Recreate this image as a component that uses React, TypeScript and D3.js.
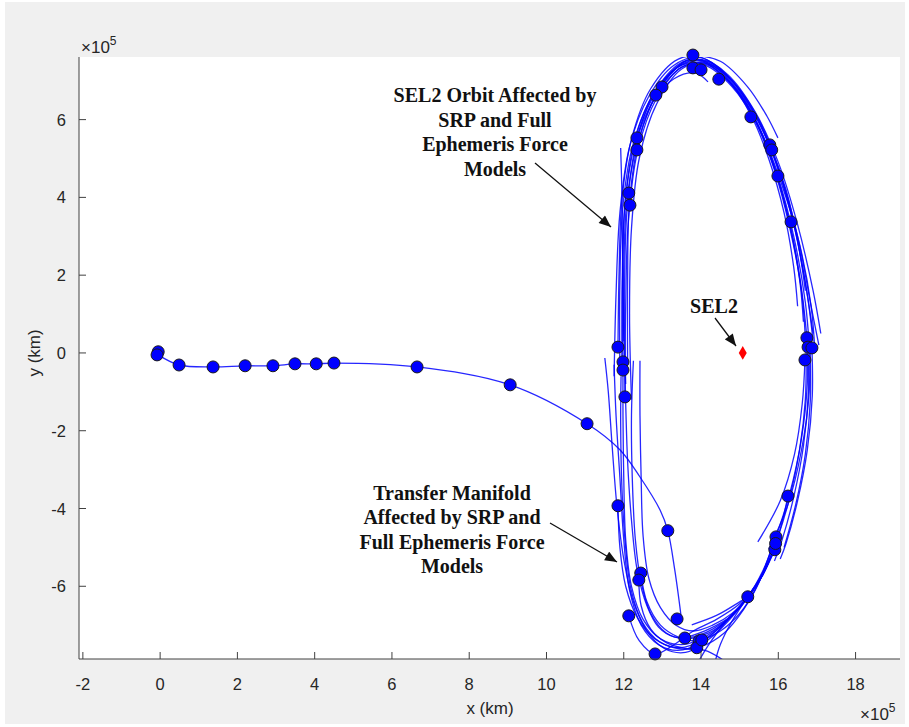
import React, { useEffect } from "react";
import * as d3 from "d3";

type P = [number, number];

// values in units of 1e5 km
const xTicks = [-2, 0, 2, 4, 6, 8, 10, 12, 14, 16, 18];
const yTicks = [-6, -4, -2, 0, 2, 4, 6];

const transferPath: P[] = [
  [-0.05, -0.05], [0.49, -0.31], [1.37, -0.36], [2.2, -0.33], [2.92, -0.33], [3.49, -0.28],
  [4.04, -0.28], [4.5, -0.26], [6.65, -0.36], [9.06, -0.82], [11.05, -1.82], [11.9, -2.49],
  [12.42, -3.19], [12.94, -4.04], [13.14, -4.57], [13.32, -5.58], [13.48, -6.74],
];

const transferMarkers: P[] = [
  [-0.05, 0.03], [-0.08, -0.05], [0.49, -0.31], [1.37, -0.36], [2.2, -0.33], [2.92, -0.33],
  [3.49, -0.28], [4.04, -0.28], [4.5, -0.26], [6.65, -0.36], [9.06, -0.82], [11.05, -1.82],
  [13.14, -4.57], [13.38, -6.84],
];

// arcs climbing the left side, over the top, down to the right
const upperArcs: P[][] = [
  [[11.95, -0.1], [11.97, 2.0], [12.05, 4.0], [12.35, 5.6], [12.9, 6.8], [13.6, 7.5], [14.2, 7.45], [14.9, 6.8], [15.5, 5.8], [16.0, 4.5], [16.4, 3.0], [16.7, 1.3], [16.8, 0.2]],
  [[12.0, 0.3], [12.0, 2.2], [12.1, 4.1], [12.45, 5.7], [13.0, 6.9], [13.7, 7.55], [14.3, 7.4], [15.0, 6.7], [15.6, 5.6], [16.1, 4.3], [16.55, 2.8], [16.85, 1.2], [16.95, 0.0]],
  [[11.9, -0.5], [11.9, 1.8], [11.98, 3.8], [12.25, 5.4], [12.8, 6.7], [13.5, 7.4], [14.1, 7.4], [14.8, 6.85], [15.4, 5.95], [15.9, 4.7], [16.3, 3.2], [16.6, 1.6], [16.7, 0.4]],
  [[12.05, -0.8], [12.02, 1.5], [12.08, 3.6], [12.3, 5.3], [12.75, 6.6], [13.4, 7.35], [14.0, 7.5], [14.7, 7.0], [15.35, 6.1], [15.85, 4.9], [16.25, 3.5], [16.55, 1.9], [16.65, 0.8]],
  [[11.85, 0.1], [11.88, 2.1], [11.95, 3.9], [12.2, 5.5], [12.7, 6.8], [13.4, 7.55], [14.0, 7.6], [14.75, 7.05], [15.45, 6.0], [16.05, 4.6], [16.5, 3.0], [16.85, 1.2], [17.05, 0.2]],
  [[12.1, -0.3], [12.1, 1.9], [12.15, 3.9], [12.4, 5.5], [12.9, 6.75], [13.55, 7.45], [14.15, 7.5], [14.85, 6.95], [15.5, 5.95], [16.0, 4.7], [16.4, 3.3], [16.7, 1.8], [16.9, 0.5]],
  [[11.75, -0.6], [11.8, 1.5], [11.9, 3.6], [12.15, 5.3], [12.65, 6.6], [13.3, 7.4], [13.95, 7.6], [14.7, 7.15], [15.4, 6.2], [16.0, 4.9], [16.5, 3.3], [16.9, 1.6], [17.1, 0.5]],
  [[12.2, -1.2], [12.15, 1.0], [12.2, 3.2], [12.4, 5.0], [12.85, 6.4], [13.5, 7.3], [14.1, 7.45], [14.75, 6.95], [15.3, 6.1], [15.75, 5.0], [16.15, 3.6], [16.4, 2.2], [16.5, 1.2]],
  [[11.98, -0.23], [11.96, 1.7], [12.02, 3.7], [12.28, 5.45], [12.82, 6.75], [13.55, 7.5], [14.2, 7.5], [14.9, 6.9], [15.55, 5.9], [16.05, 4.6], [16.45, 3.1], [16.75, 1.5], [16.9, 0.3]],
  [[12.03, -1.13], [12.05, 1.2], [12.12, 3.4], [12.36, 5.2], [12.85, 6.55], [13.5, 7.35], [14.12, 7.42], [14.8, 6.9], [15.45, 5.9], [15.95, 4.6], [16.35, 3.1], [16.62, 1.5], [16.74, 0.39]],
];

const topArcs: P[][] = [
  [[12.34, 5.53], [12.75, 6.45], [13.3, 7.05], [13.85, 7.2], [14.18, 6.97]],
  [[12.99, 6.84], [13.5, 7.35], [14.1, 7.45], [14.7, 7.1], [15.3, 6.3], [15.8, 5.3], [16.2, 4.2], [16.5, 2.9], [16.7, 1.6]],
  [[13.79, 7.66], [14.5, 7.5], [15.2, 6.85], [15.7, 6.1], [15.99, 5.53]],
];

// arcs going down the right side
const rightArcs: P[][] = [
  [[16.74, 0.39], [16.75, -0.8], [16.6, -2.2], [16.3, -3.6], [15.95, -4.7]],
  [[16.77, 0.15], [16.78, -1.0], [16.65, -2.4], [16.4, -3.7], [16.1, -4.8], [15.9, -5.35]],
  [[16.87, 0.13], [16.88, -1.1], [16.75, -2.5], [16.5, -3.8], [16.2, -4.9], [16.05, -5.3]],
  [[16.69, -0.18], [16.62, -1.3], [16.42, -2.6], [16.05, -3.8], [15.47, -4.86]],
  [[16.8, 0.3], [16.8, -1.0], [16.6, -2.5], [16.25, -3.9], [15.75, -5.05]],
  [[16.72, 0.0], [16.7, -1.2], [16.55, -2.5], [16.3, -3.7], [16.0, -4.7], [15.6, -5.7], [15.21, -6.27]],
  [[16.82, 0.2], [16.83, -1.2], [16.7, -2.6], [16.45, -3.9], [16.15, -5.0]],
];

// arcs around the bottom and up the left side
const bottomArcs: P[][] = [
  [[15.94, -4.73], [15.6, -5.6], [15.21, -6.27], [14.7, -6.85], [14.1, -7.3], [13.5, -7.5], [12.95, -7.35], [12.5, -6.85], [12.2, -6.0], [12.05, -4.8], [12.0, -3.2], [11.98, -1.6], [11.98, -0.3]],
  [[15.91, -5.06], [15.6, -5.7], [15.21, -6.27], [14.6, -6.95], [14.0, -7.45], [13.4, -7.65], [12.9, -7.5], [12.45, -7.0], [12.15, -6.1], [12.0, -4.8], [11.9, -3.2], [11.8, -1.6], [11.75, -0.3]],
  [[15.94, -4.9], [15.62, -5.65], [15.25, -6.25], [14.75, -6.8], [14.2, -7.2], [13.6, -7.35], [13.1, -7.2], [12.7, -6.7], [12.45, -5.9], [12.3, -4.8], [12.22, -3.2], [12.2, -1.6], [12.25, -0.2]],
  [[16.25, -3.68], [16.0, -4.7], [15.6, -5.7], [15.21, -6.27], [14.65, -6.9], [14.2, -7.5], [13.9, -8.0]],
  [[15.93, -4.8], [15.58, -5.68], [15.21, -6.27], [14.8, -6.75], [14.3, -7.1], [13.8, -7.3], [13.3, -7.3], [12.9, -7.05], [12.6, -6.5], [12.35, -5.6], [12.2, -4.3], [12.1, -2.8], [12.05, -1.3], [12.0, 0.5], [11.97, 2.5], [11.95, 4.2], [11.92, 5.27]],
  [[15.21, -6.27], [14.7, -6.9], [14.15, -7.4], [13.6, -7.7], [13.05, -7.6], [12.6, -7.15], [12.25, -6.4], [12.0, -5.3], [11.82, -3.9], [11.7, -2.4], [11.6, -1.0], [11.51, -0.13]],
  [[15.91, -5.06], [15.55, -5.75], [15.21, -6.27], [14.8, -6.7], [14.3, -7.0], [13.8, -7.15], [13.35, -7.0], [12.95, -6.55], [12.65, -5.8], [12.5, -4.7], [12.45, -3.2], [12.42, -1.6], [12.42, -0.2]],
  [[15.21, -6.27], [14.8, -6.9], [14.5, -7.5], [14.35, -8.0]],
  [[15.92, -4.95], [15.6, -5.7], [15.22, -6.27], [14.68, -6.88], [14.05, -7.38], [13.45, -7.58], [12.92, -7.42], [12.48, -6.92], [12.18, -6.05], [12.04, -4.9], [11.95, -3.4], [11.92, -1.8], [11.93, -0.6]],
];

// arcs from the lower left markers round to the right
const lowerLeftArcs: P[][] = [
  [[11.85, -3.93], [11.9, -5.0], [12.05, -6.0], [12.35, -6.8], [12.8, -7.35], [13.4, -7.6], [14.0, -7.55], [14.6, -7.2], [15.1, -6.6], [15.5, -5.9], [15.8, -5.1]],
  [[12.44, -5.66], [12.6, -6.4], [12.95, -7.0], [13.4, -7.3], [13.9, -7.4], [14.5, -7.15], [15.0, -6.7], [15.4, -6.1], [15.7, -5.4]],
  [[12.13, -6.76], [12.4, -7.4], [12.81, -7.74], [13.3, -7.5], [13.8, -7.15], [14.4, -6.85], [15.0, -6.45], [15.4, -6.0]],
  [[12.39, -5.84], [12.45, -6.5], [12.7, -7.1], [13.1, -7.45], [13.6, -7.6], [14.1, -7.65], [14.5, -7.85], [14.7, -8.0]],
  [[13.58, -7.33], [14.2, -7.1], [14.8, -6.75], [15.21, -6.27]],
  [[13.76, -6.99], [14.4, -6.75], [15.0, -6.4], [15.21, -6.27]],
];

const orbitMarkers: P[] = [
  [13.79, 7.66], [13.79, 7.33], [14.0, 7.28], [14.46, 7.04], [12.99, 6.84], [12.83, 6.63],
  [15.29, 6.07], [12.34, 5.53], [12.34, 5.22], [15.78, 5.35], [15.83, 5.22], [15.99, 4.55],
  [12.13, 4.11], [12.16, 3.8], [16.33, 3.37],
  [16.74, 0.39], [16.77, 0.15], [16.87, 0.13], [16.69, -0.18],
  [11.85, 0.15], [11.98, -0.23], [11.98, -0.44], [12.03, -1.13],
  [11.85, -3.93], [12.44, -5.66], [12.39, -5.84], [12.13, -6.76],
  [12.81, -7.74], [13.58, -7.33], [13.95, -7.4], [13.89, -7.58], [14.02, -7.38],
  [15.21, -6.27], [15.94, -4.73], [15.91, -5.06], [15.93, -4.9], [16.25, -3.68],
];

const sel2: P = [15.08, 0.0];

const orbitNote = ["SEL2 Orbit Affected by", "SRP and Full", "Ephemeris Force", "Models"];
const transferNote = ["Transfer Manifold", "Affected by SRP and", "Full Ephemeris Force", "Models"];

const W = 909;
const H = 727;
const left = 79, right = 900, top = 57, bottom = 659;

const x = d3.scaleLinear().domain([-2.1, 19.15]).range([left, right]);
const y = d3.scaleLinear().domain([-7.87, 7.61]).range([bottom, top]);

const line = d3.line<P>().x(d => x(d[0])).y(d => y(d[1])).curve(d3.curveCatmullRom.alpha(0.5));

const axisColor = "#404040";
const tickFont = "'Liberation Sans', Arial, sans-serif";
const noteFont = "'Liberation Serif', 'Times New Roman', serif";

const App = () => {
  useEffect(() => {
    document.body.style.margin = "0";
  }, []);

  const allArcs = [...upperArcs, ...topArcs, ...rightArcs, ...bottomArcs, ...lowerLeftArcs];

  return (
    <svg width={W} height={H} style={{ display: "block" }}>
      <defs>
        <clipPath id="plot">
          <rect x={left} y={top} width={right - left} height={bottom - top} />
        </clipPath>
        <marker id="arrow" viewBox="0 0 12 10" refX="12" refY="5" markerWidth="13" markerHeight="10" markerUnits="userSpaceOnUse" orient="auto">
          <path d="M0,0 L12,5 L0,10 Z" fill="#111" />
        </marker>
      </defs>
      <rect width={W} height={H} fill="#fff" />
      <rect x={5} y={2} width={900} height={722} fill="#f0f0f0" />
      <rect x={left} y={top} width={right - left} height={bottom - top} fill="#fff" />

      <g clipPath="url(#plot)" fill="none" stroke="#0000ff" strokeWidth={1.3} strokeOpacity={0.85}>
        {allArcs.map((a, i) => (
          <path key={i} d={line(a) || ""} />
        ))}
        <path d={line(transferPath) || ""} />
      </g>

      <g fill="#0000ff" stroke="#1a1a1a" strokeWidth={1}>
        {[...orbitMarkers, ...transferMarkers].map((d, i) => (
          <circle key={i} cx={x(d[0])} cy={y(d[1])} r={6} />
        ))}
      </g>

      <path
        d={d3.symbol(d3.symbolDiamond, 55)() || ""}
        transform={`translate(${x(sel2[0])},${y(sel2[1])})`}
        fill="#ff0000"
      />

      {/* axes */}
      <line x1={left} x2={left} y1={top} y2={bottom} stroke={axisColor} />
      <line x1={left} x2={right} y1={bottom} y2={bottom} stroke={axisColor} />
      {xTicks.map(t => (
        <g key={t}>
          <line x1={x(t)} x2={x(t)} y1={bottom} y2={bottom - 7} stroke={axisColor} />
          <text x={x(t)} y={690} textAnchor="middle" fontFamily={tickFont} fontSize={16.5} fill="#262626">{t}</text>
        </g>
      ))}
      {yTicks.map(t => (
        <g key={t}>
          <line x1={left} x2={left + 7} y1={y(t)} y2={y(t)} stroke={axisColor} />
          <text x={66} y={y(t) + 6} textAnchor="end" fontFamily={tickFont} fontSize={16.5} fill="#262626">{t}</text>
        </g>
      ))}
      <text x={490} y={714} textAnchor="middle" fontFamily={tickFont} fontSize={17} fill="#262626">x (km)</text>
      <text transform={`translate(40,${y(0)}) rotate(-90)`} textAnchor="middle" fontFamily={tickFont} fontSize={17} fill="#262626">y (km)</text>
      <text x={81} y={53} fontFamily={tickFont} fontSize={17} fill="#262626">
        ×10<tspan dy={-8} fontSize={12}>5</tspan>
      </text>
      <text x={860} y={720} fontFamily={tickFont} fontSize={17} fill="#262626">
        ×10<tspan dy={-8} fontSize={12}>5</tspan>
      </text>

      {/* annotations */}
      {orbitNote.map((s, i) => (
        <text key={s} x={495} y={102 + i * 24.5} textAnchor="middle" fontFamily={noteFont} fontWeight="bold" fontSize={20} fill="#111">{s}</text>
      ))}
      <line x1={535} y1={163} x2={611} y2={227} stroke="#111" strokeWidth={1.3} markerEnd="url(#arrow)" />

      {transferNote.map((s, i) => (
        <text key={s + i} x={452} y={500 + i * 24.3} textAnchor="middle" fontFamily={noteFont} fontWeight="bold" fontSize={20} fill="#111">{s}</text>
      ))}
      <line x1={550} y1={523} x2={617} y2={562} stroke="#111" strokeWidth={1.3} markerEnd="url(#arrow)" />

      <text x={714} y={313} textAnchor="middle" fontFamily={noteFont} fontWeight="bold" fontSize={20} fill="#111">SEL2</text>
      <line x1={715} y1={318} x2={736} y2={346} stroke="#111" strokeWidth={1.3} markerEnd="url(#arrow)" />
    </svg>
  );
};

export default App;
